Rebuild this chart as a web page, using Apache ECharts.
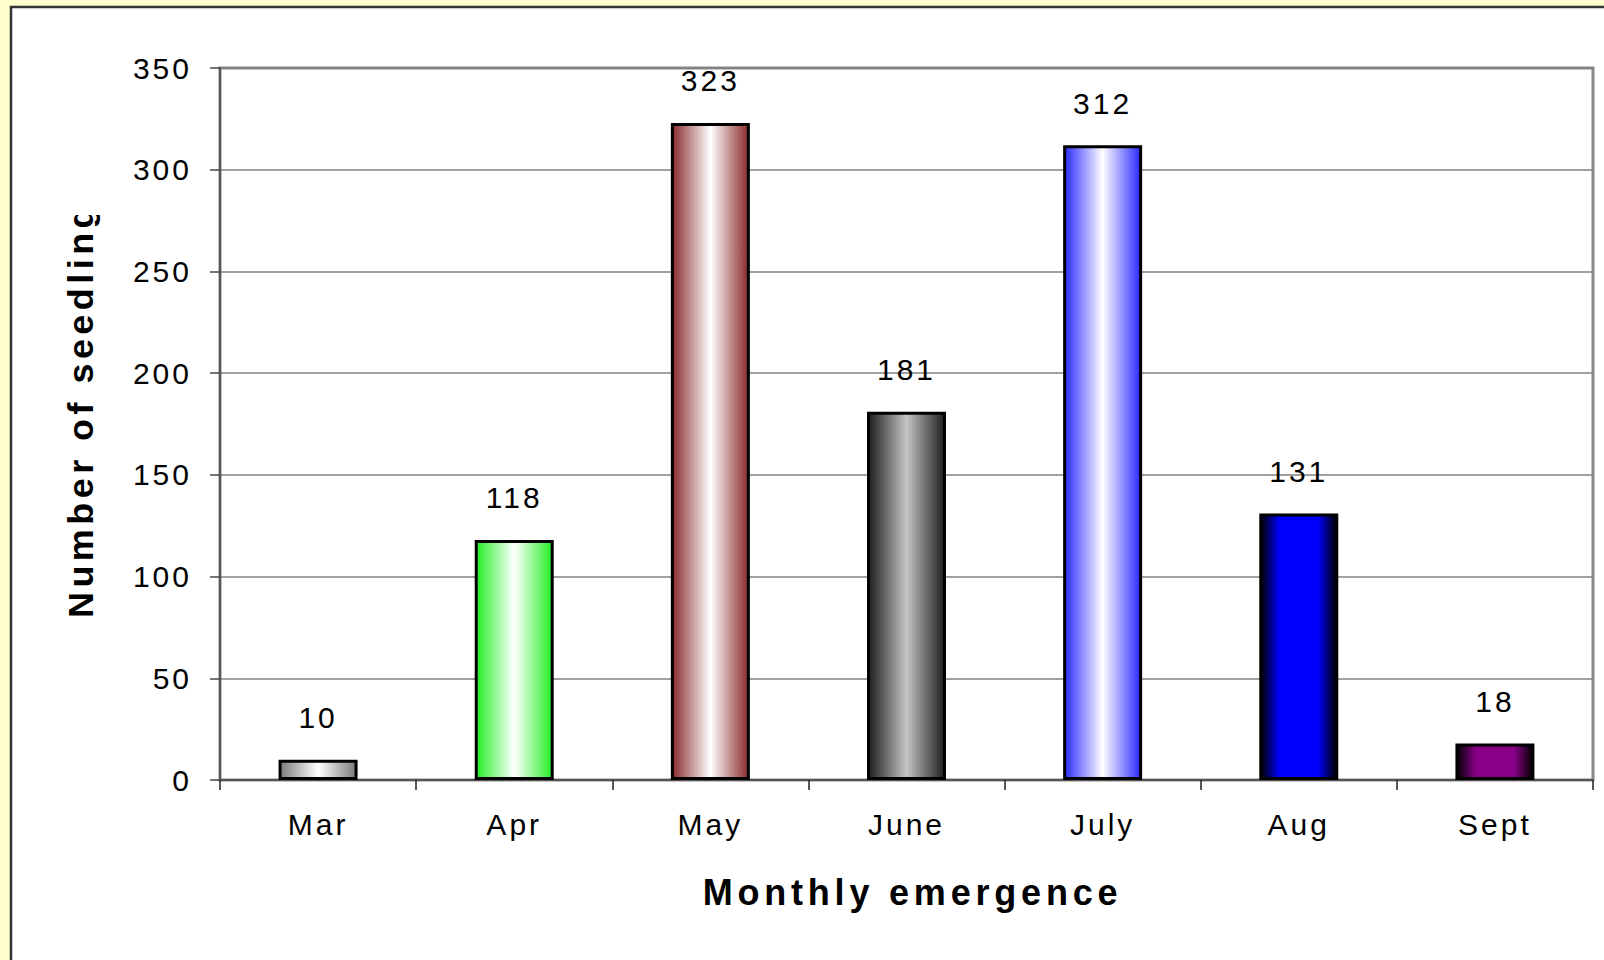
<!DOCTYPE html>
<html>
<head>
<meta charset="utf-8">
<style>
  html, body { margin: 0; padding: 0; background: #FFFFCC; }
  #chart { width: 1604px; height: 960px; }
  #chart text { letter-spacing: 3px; }
  #chart text[style*="bold"], #chart text[font-weight="bold"] { letter-spacing: 4.8px; }
  #chart text[style*="35.9px"] { letter-spacing: 4.5px; }
</style>
<script src="https://cdn.jsdelivr.net/npm/echarts@6/dist/echarts.min.js"></script>
</head>
<body>
<div id="chart"></div>
<script>
const months = ['Mar', 'Apr', 'May', 'June', 'July', 'Aug', 'Sept'];
const seedlings = [10, 118, 323, 181, 312, 131, 18];
const yTicks = [0, 50, 100, 150, 200, 250, 300, 350];
// gradient colours per bar: [edge, centre]
const barEdge = ['#7a7a7a', '#22ee22', '#8a2a2a', '#1e1e1e', '#2a2aff', '#000000', '#000000'];
const barCentre = ['#ffffff', '#ffffff', '#ffffff', '#c4c4c4', '#ffffff', '#0000ff', '#880088'];

const FONT = 'Arial, "Liberation Sans", sans-serif';

function grad(edge, centre) {
  return new echarts.graphic.LinearGradient(0, 0, 1, 0, [
    { offset: 0, color: edge },
    { offset: 0.5, color: centre },
    { offset: 1, color: edge }
  ]);
}
function gradDark(edge, centre) {
  return new echarts.graphic.LinearGradient(0, 0, 1, 0, [
    { offset: 0, color: edge },
    { offset: 0.25, color: centre },
    { offset: 0.75, color: centre },
    { offset: 1, color: edge }
  ]);
}

const chart = echarts.init(document.getElementById('chart'), null, { renderer: 'svg' });

const data = seedlings.map((v, i) => ({
  value: v,
  itemStyle: { color: (i >= 5 ? gradDark : grad)(barEdge[i], barCentre[i]) }
}));

chart.setOption({
  backgroundColor: '#FFFFCC',
  animation: false,
  grid: {
    left: 220, right: 11, top: 68, bottom: 180,
    show: true, borderColor: '#8a8a8a', borderWidth: 3, backgroundColor: 'transparent',
    z: 1
  },
  graphic: [
    {
      type: 'rect', z: -10, silent: true,
      shape: { x: 11, y: 7, width: 1620, height: 980 },
      style: { fill: '#ffffff', stroke: '#333333', lineWidth: 2.5 }
    },
    {
      type: 'text', z: 10, silent: true,
      x: 81, y: 618, rotation: Math.PI / 2,
      style: {
        text: 'Number of seedlings',
        font: 'bold 35.9px ' + FONT,
        fill: '#000000',
        textAlign: 'left',
        textVerticalAlign: 'middle'
      }
    },
    {
      type: 'rect', z: 20, silent: true,
      shape: { x: 50, y: 9, width: 70, height: 206 },
      style: { fill: '#ffffff' }
    }
  ],
  xAxis: {
    type: 'category',
    data: months,
    name: 'Monthly emergence',
    nameLocation: 'middle',
    nameGap: 94,
    nameTextStyle: { fontFamily: FONT, fontWeight: 'bold', fontSize: 36, color: '#000', padding: [0, 0, 0, 12] },
    axisLine: { lineStyle: { color: '#555555', width: 2 } },
    axisTick: { show: true, length: 10, lineStyle: { color: '#222', width: 1.5 } },
    axisLabel: { fontFamily: FONT, fontSize: 30, color: '#000', margin: 29 },
    z: 5
  },
  yAxis: {
    type: 'value',
    min: 0, max: 350, interval: 50,
    axisLine: { show: true, lineStyle: { color: '#555555', width: 2 } },
    axisTick: { show: true, length: 10, lineStyle: { color: '#444', width: 1.5 } },
    axisLabel: {
      fontFamily: FONT, fontSize: 30, color: '#000', margin: 28,
      formatter: v => (yTicks.indexOf(v) >= 0 ? String(v) : '')
    },
    splitLine: { show: true, lineStyle: { color: '#808080', width: 1.5 } },
    z: 5
  },
  series: [{
    type: 'bar',
    data: data,
    barWidth: 79,
    itemStyle: { borderColor: '#000', borderWidth: 3 },
    label: {
      show: true, position: 'top', distance: 27,
      fontFamily: FONT, fontSize: 30, color: '#000'
    },
    z: 6
  }]
});
</script>
</body>
</html>
